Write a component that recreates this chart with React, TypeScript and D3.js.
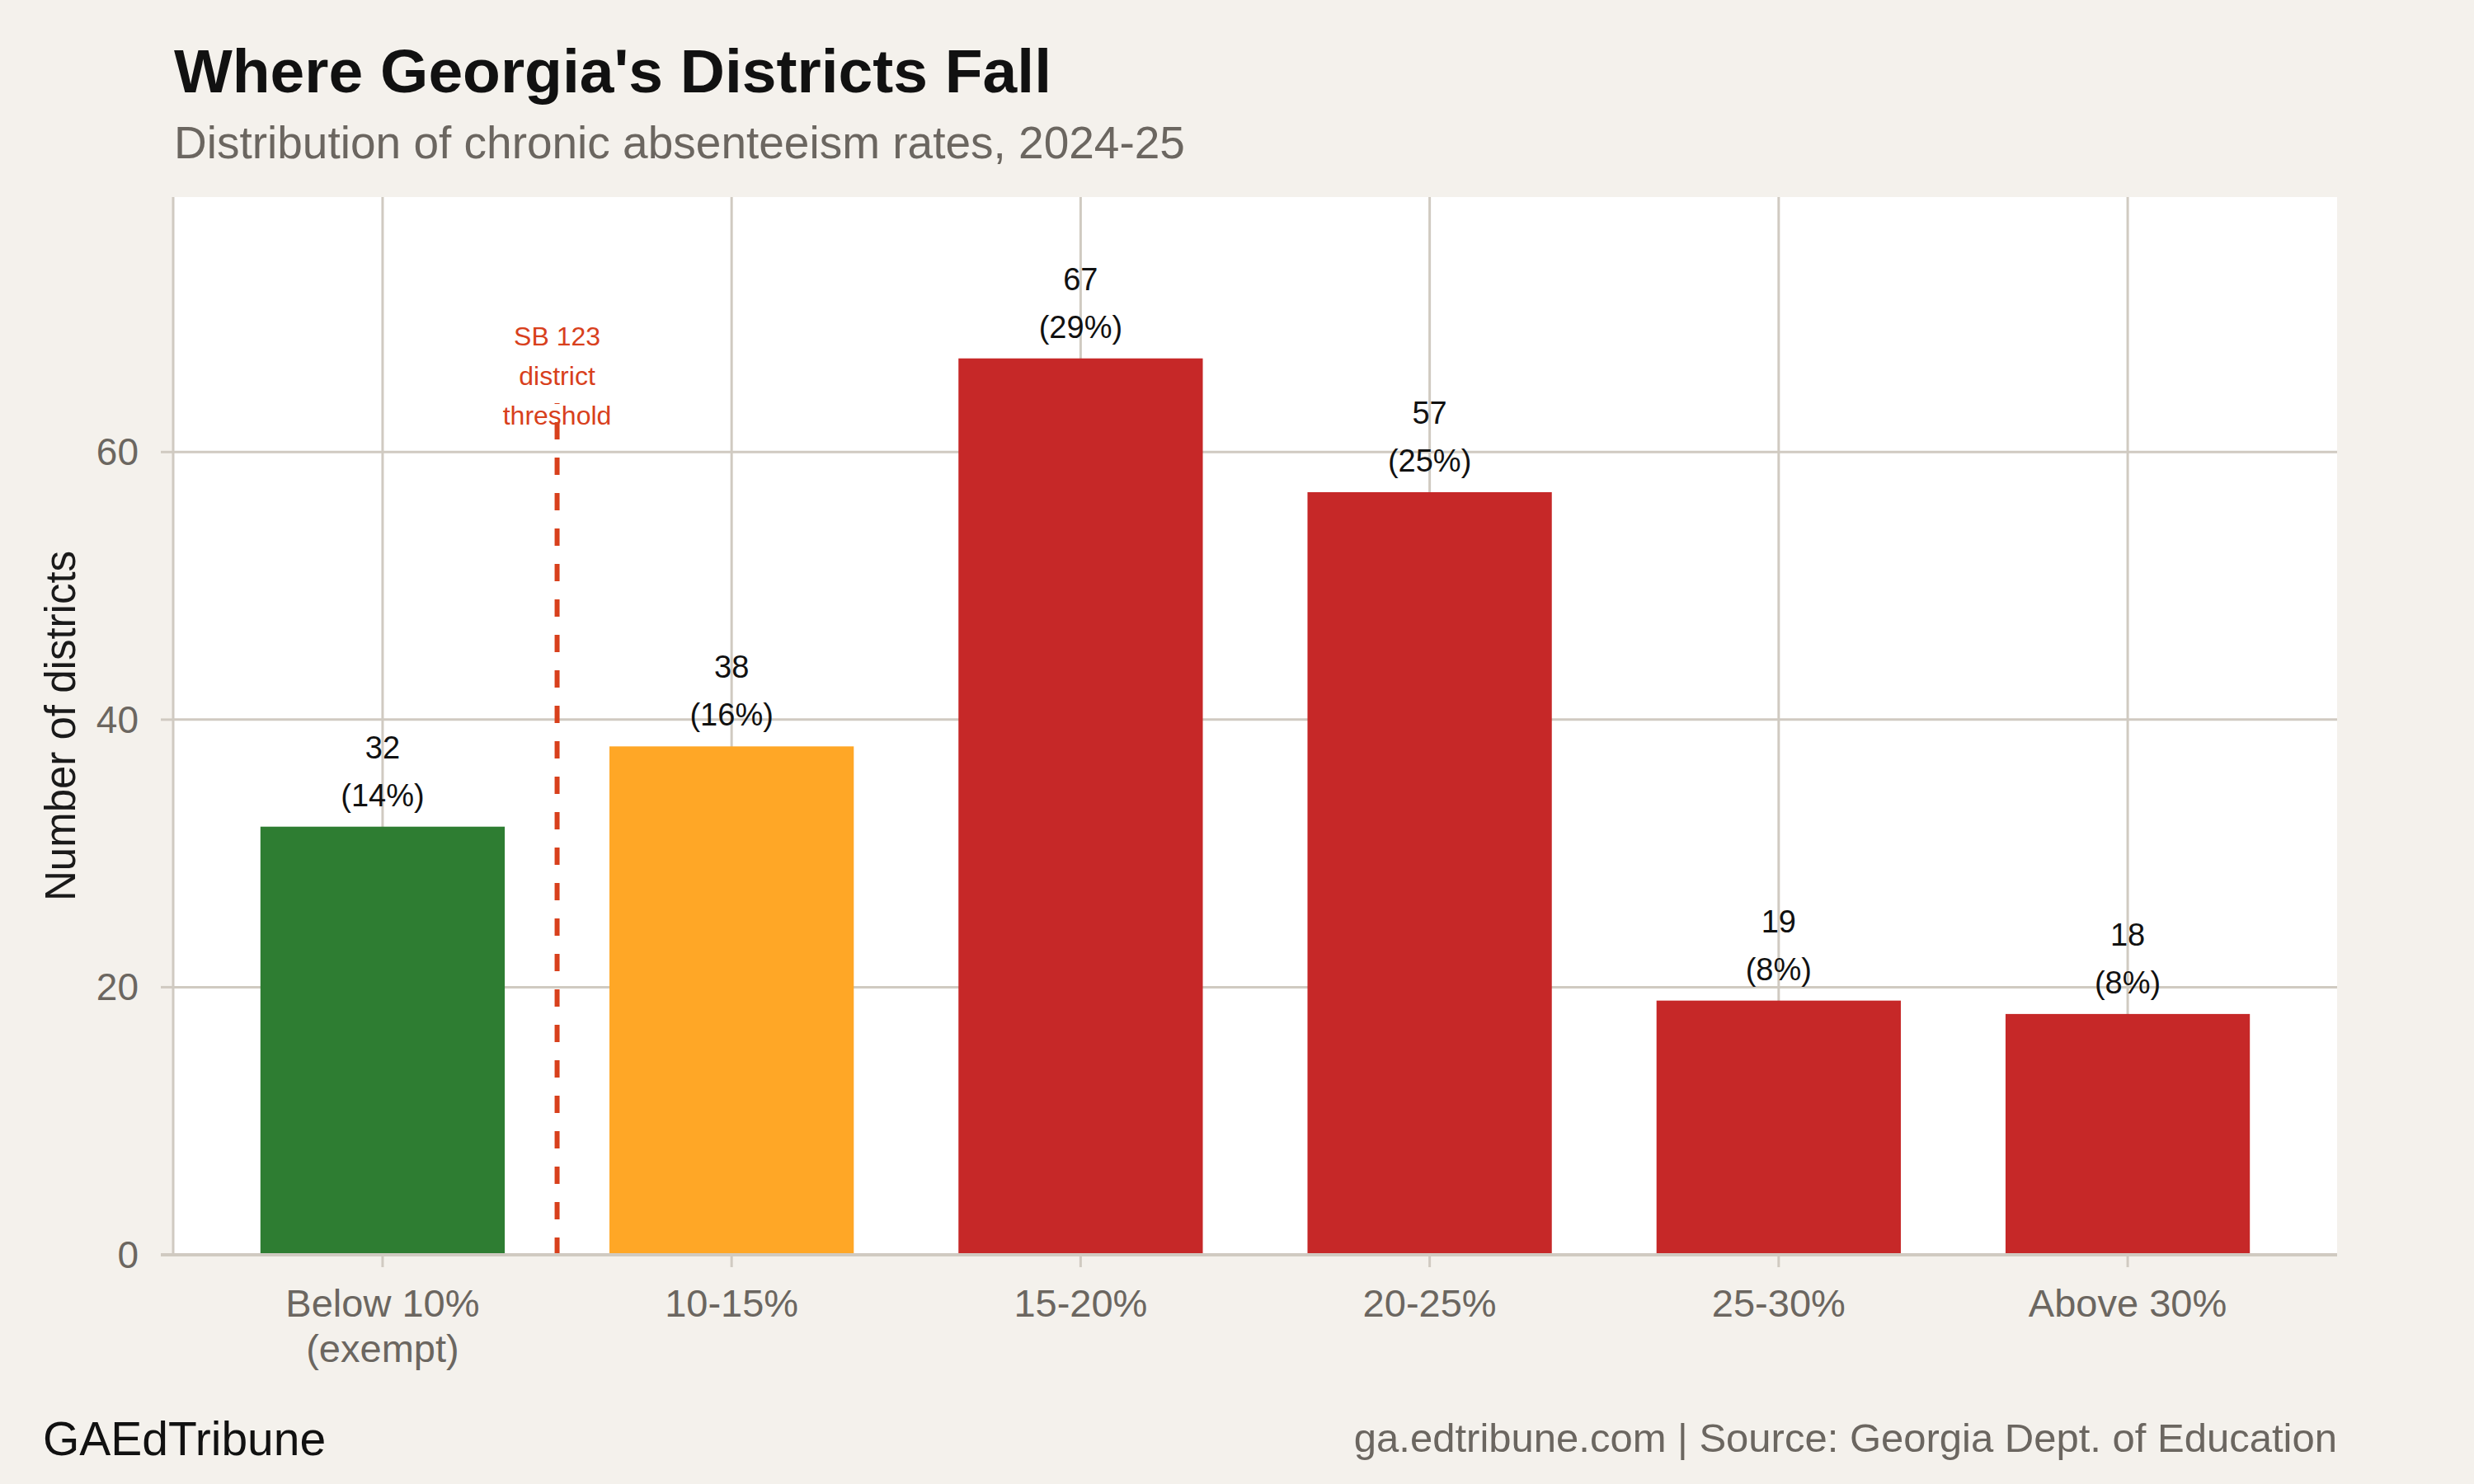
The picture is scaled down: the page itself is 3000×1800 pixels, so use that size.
import React from "react";
import { scaleLinear, scalePoint } from "d3";

const categories = ["Below 10%\n(exempt)", "10-15%", "15-20%", "20-25%", "25-30%", "Above 30%"];
const counts = [32, 38, 67, 57, 19, 18];
const barColors = ["#2e7d32", "#ffa726", "#c62828", "#c62828", "#c62828", "#c62828"];
const yTicks = [0, 20, 40, 60];
const thresholdLines = ["SB 123", "district", "threshold"];

const W = 3000;
const H = 1800;
const LEFT = 210;
const RIGHT = 2834;
const TOP = 239;
const BOTTOM = 1522;

const FONT = "'Liberation Sans', Arial, Helvetica, sans-serif";
const GRID = "#d0cac1";
const GRAY = "#6b6660";
const ACCENT = "#d8401c";

export default function App() {
  const total = counts.reduce((a, b) => a + b, 0);
  const maxVal = Math.max(...counts);

  const x = scalePoint<string>().domain(categories).range([LEFT, RIGHT]).padding(0.6);
  const step = x.step();
  const barW = step * 0.7;
  const y = scaleLinear().domain([0, maxVal * 1.18]).range([BOTTOM, TOP]);

  // threshold sits between the first and second category
  const thrX = (x(categories[0])! + x(categories[1])!) / 2;
  const thrTop = y(maxVal * 0.95);
  const thrMid = y(maxVal * 0.98);

  return (
    <svg
      width={W}
      height={H}
      style={{ position: "absolute", left: 0, top: 0, background: "#f4f1ec" }}
      fontFamily={FONT}
    >
      <rect width={W} height={H} fill="#f4f1ec" />

      <text x={211} y={112} fontSize={75} fontWeight="bold" fill="#111">
        Where Georgia's Districts Fall
      </text>
      <text x={211} y={192} fontSize={55} fill={GRAY}>
        Distribution of chronic absenteeism rates, 2024-25
      </text>

      <rect x={LEFT} y={TOP} width={RIGHT - LEFT} height={BOTTOM - TOP} fill="#fff" />

      {yTicks.map(v => (
        <g key={v}>
          {v > 0 && <line x1={LEFT} x2={RIGHT} y1={y(v)} y2={y(v)} stroke={GRID} strokeWidth={3} />}
          <line x1={LEFT - 15} x2={LEFT} y1={y(v)} y2={y(v)} stroke={GRID} strokeWidth={3} />
          <text x={168} y={y(v)} fontSize={46} fill={GRAY} textAnchor="end" dominantBaseline="central">
            {v}
          </text>
        </g>
      ))}
      {categories.map(c => (
        <line key={c} x1={x(c)} x2={x(c)} y1={TOP} y2={BOTTOM} stroke={GRID} strokeWidth={3} />
      ))}

      {categories.map((c, i) => (
        <rect
          key={c}
          x={x(c)! - barW / 2}
          y={y(counts[i])}
          width={barW}
          height={BOTTOM - y(counts[i])}
          fill={barColors[i]}
        />
      ))}

      {categories.map((c, i) => (
        <g key={c} fontSize={38} fill="#111" textAnchor="middle">
          <text x={x(c)} y={y(counts[i]) - 83}>{counts[i]}</text>
          <text x={x(c)} y={y(counts[i]) - 25}>({Math.round((counts[i] / total) * 100)}%)</text>
        </g>
      ))}

      <line
        x1={thrX}
        x2={thrX}
        y1={BOTTOM}
        y2={thrTop}
        stroke={ACCENT}
        strokeWidth={6}
        strokeDasharray="21,22"
      />
      {thresholdLines.map((t, i) => (
        <text
          key={t}
          x={thrX}
          y={thrMid + (i - 1) * 48}
          fontSize={32}
          fill={ACCENT}
          textAnchor="middle"
          dominantBaseline="central"
        >
          {t}
        </text>
      ))}

      <line x1={LEFT} x2={LEFT} y1={TOP} y2={BOTTOM} stroke={GRID} strokeWidth={3} />
      <line x1={LEFT - 15} x2={RIGHT} y1={BOTTOM} y2={BOTTOM} stroke={GRID} strokeWidth={4} />
      {categories.map(c => (
        <g key={c} transform={`translate(${x(c)},0)`}>
          <line y1={BOTTOM} y2={BOTTOM + 15} stroke={GRID} strokeWidth={3} />
          {c.split("\n").map((part, j) => (
            <text key={j} y={1597 + j * 55} fontSize={47} fill={GRAY} textAnchor="middle">
              {part}
            </text>
          ))}
        </g>
      ))}

      <text
        transform={`translate(91, ${(TOP + BOTTOM) / 2}) rotate(-90)`}
        fontSize={51}
        fill="#1a1a1a"
        textAnchor="middle"
      >
        Number of districts
      </text>

      <text x={52} y={1765} fontSize={57} fill="#111">
        GAEdTribune
      </text>
      <text x={RIGHT} y={1761} fontSize={49} fill={GRAY} textAnchor="end">
        ga.edtribune.com | Source: Georgia Dept. of Education
      </text>
    </svg>
  );
}
